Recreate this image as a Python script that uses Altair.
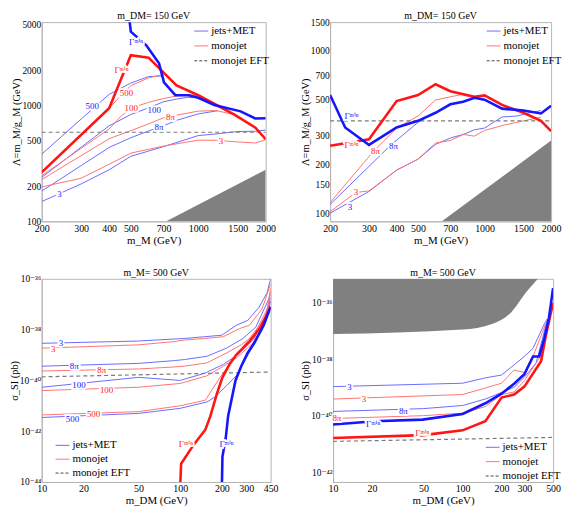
import altair as alt
import pandas as pd

FONT = "Liberation Serif, DejaVu Serif, serif"
BLUE_T = "#6b6bff"
RED_T = "#ff7373"
BLUE = "#1515ff"
RED = "#ff1515"
SHADE = "#808080"
EFT_C = "#7a7a7a"

# ---------------- Panel 1 (top-left): m_DM = 150 GeV, Lambda vs m_M ----------------
p1_jets_min_x = [490, 500, 585, 668, 703, 790, 906, 1000, 1180, 1546, 1796, 2000]
p1_jets_min_y = [6000, 4300, 3300, 2300, 1575, 1220, 1220, 1160, 1006, 886, 769, 774]
p1_mono_min_x = [200, 400, 500, 600, 800, 1000, 1200, 1450, 1800, 2000]
p1_mono_min_y = [264, 944, 2700, 2570, 1480, 1220, 1010, 830, 640, 510]
p1_jets500_x = [200, 300, 400, 500, 600, 700]
p1_jets500_y = [379, 760, 1240, 1553, 1766, 1790]
p1_mono500_x = [200, 300, 400, 450, 500, 600, 700]
p1_mono500_y = [262, 556, 944, 1200, 1476, 1720, 1845]
p1_jets100_x = [200, 300, 400, 500, 600, 700, 800, 900, 1000]
p1_jets100_y = [239, 435, 665, 832, 950, 1072, 1130, 1170, 1159]
p1_mono100_x = [200, 300, 400, 450, 500, 600, 700, 800, 900, 1000]
p1_mono100_y = [247, 425, 624, 800, 944, 1060, 1143, 1200, 1230, 1220]
p1_jets8pi_x = [200, 300, 400, 500, 600, 700, 800, 1000, 1224]
p1_jets8pi_y = [182, 302, 433, 525, 600, 665, 741, 842, 898]
p1_mono8pi_x = [200, 300, 400, 500, 600, 700, 800, 1000, 1200, 1400]
p1_mono8pi_y = [229, 368, 515, 604, 690, 781, 822, 890, 900, 842]
p1_jets3_x = [200, 300, 400, 500, 700, 1000, 1200, 1500, 1800, 2000]
p1_jets3_y = [148, 210, 278, 363, 440, 548, 566, 594, 597, 612]
p1_mono3_x = [200, 300, 400, 500, 700, 1000, 1200, 1500, 1800, 2000]
p1_mono3_y = [198, 235, 310, 387, 445, 500, 499, 483, 473, 505]
p1_eft_x = [200, 2000]
p1_eft_y = [585, 585]
p1_shade_x = [720, 2000]
p1_shade_y = [100, 278]
p1_lab_x = [528, 454, 336, 478, 502, 636, 752, 668, 1264, 240]
p1_lab_y = [3490, 2003, 990, 1274, 950, 903, 790, 644, 489, 171]
p1_lab_t = ["Γᵐⁱⁿ", "Γᵐⁱⁿ", "500", "500", "100", "100", "8π", "8π", "3", "3"]
p1_lab_c = ["b", "r", "b", "r", "r", "b", "r", "b", "r", "b"]

# ---------------- Panel 2 (top-right) ----------------
p2_jets_min_x = [200, 234, 300, 400, 500, 600, 700, 800, 900, 1000, 1200, 1500, 1800, 2000]
p2_jets_min_y = [534, 337, 263, 337, 370, 415, 468, 485, 513, 500, 440, 428, 411, 458]
p2_mono_min_x = [200, 300, 400, 500, 600, 700, 900, 1000, 1200, 1500, 1800, 2000]
p2_mono_min_y = [260, 285, 490, 533, 622, 563, 520, 531, 464, 415, 370, 320]
p2_mono8pi_x = [200, 315, 400, 500, 600, 700, 800]
p2_mono8pi_y = [116, 241, 334, 396, 497, 520, 540]
p2_jets8pi_x = [200, 378, 500, 600]
p2_jets8pi_y = [113, 264, 362, 418]
p2_mono3_x = [200, 262, 300, 400, 500, 600, 700, 800, 900, 1000, 1200, 1500, 1800]
p2_mono3_y = [102, 134, 137, 184, 215, 270, 280, 305, 298, 323, 346, 370, 390]
p2_jets3_x = [200, 300, 400, 500, 600, 700, 800, 900, 1000, 1200, 1400, 1600, 1800]
p2_jets3_y = [100, 136, 184, 215, 265, 290, 305, 326, 334, 391, 396, 415, 428]
p2_eft_x = [200, 2000]
p2_eft_y = [370, 370]
p2_shade_x = [641, 2000]
p2_shade_y = [89, 280]
p2_lab_x = [250, 250, 321, 387, 262, 246]
p2_lab_y = [396, 264, 241, 258, 134, 109]
p2_lab_t = ["Γᵐⁱⁿ", "Γᵐⁱⁿ", "8π", "8π", "3", "3"]
p2_lab_c = ["b", "r", "r", "b", "r", "b"]

# ---------------- Panel 3 (bottom-left): m_M = 500 GeV, log10 sigma_SI [pb] ----------------
p3_jets_min_x = [200, 202, 213, 222, 251, 276, 307, 342, 401, 450]
p3_jets_min_e = [-44.2, -43.0, -42.3, -41.4, -40.0, -39.44, -38.92, -38.54, -37.83, -37.1]
p3_mono_min_x = [100, 101.6, 126, 152, 165, 184, 202, 228, 254, 316, 381, 450]
p3_mono_min_e = [-44.2, -43.28, -42.51, -41.94, -41.42, -40.53, -39.88, -39.35, -38.99, -38.47, -37.9, -37.1]
p3_jets3_x = [10, 50, 91, 107, 150, 200, 254, 307, 370, 424, 450]
p3_jets3_e = [-38.54, -38.45, -38.37, -38.35, -38.28, -38.22, -37.83, -37.64, -37.13, -36.55, -36.0]
p3_mono3_x = [10, 50, 91, 107, 150, 205, 268, 316, 390, 436, 450]
p3_mono3_e = [-38.73, -38.6, -38.47, -38.41, -38.35, -38.28, -37.96, -37.83, -37.19, -36.42, -36.2]
p3_jets8pi_x = [10, 50, 91, 107, 156, 216, 284, 352, 424, 450]
p3_jets8pi_e = [-39.44, -39.33, -39.22, -39.18, -39.05, -38.73, -38.35, -37.9, -36.94, -36.62]
p3_mono8pi_x = [10, 50, 91, 107, 156, 216, 276, 342, 424, 450]
p3_mono8pi_e = [-39.63, -39.55, -39.47, -39.44, -39.31, -38.92, -38.6, -38.22, -37.19, -36.87]
p3_jets100_x = [10, 50, 100, 150, 205, 260, 342, 415, 450]
p3_jets100_e = [-40.27, -39.88, -40.0, -39.72, -39.37, -38.99, -38.35, -37.45, -36.74]
p3_mono100_x = [10, 50, 100, 156, 205, 254, 333, 415, 450]
p3_mono100_e = [-40.4, -40.27, -40.12, -39.82, -39.44, -39.12, -38.54, -37.64, -36.49]
p3_mono500_x = [10, 50, 100, 152, 194, 241, 316, 415, 450]
p3_mono500_e = [-41.36, -41.23, -41.0, -40.78, -39.88, -39.18, -38.35, -37.51, -36.36]
p3_jets500_x = [10, 50, 100, 156, 179, 216, 254, 316, 415, 450]
p3_jets500_e = [-41.46, -41.3, -41.1, -40.85, -40.65, -40.21, -39.82, -38.9, -37.6, -36.9]
p3_eft_x = [10, 450]
p3_eft_e = [-39.86, -39.67]
p3_lab_x = [13.8, 12.1, 17.2, 27.1, 18.6, 29.4, 23.7, 16.7, 110, 216]
p3_lab_e = [-38.54, -38.76, -39.44, -39.6, -40.18, -40.36, -41.33, -41.53, -42.51, -42.51]
p3_lab_t = ["3", "3", "8π", "8π", "100", "100", "500", "500", "Γᵐⁱⁿ", "Γᵐⁱⁿ"]
p3_lab_c = ["b", "r", "b", "r", "b", "r", "r", "b", "r", "b"]

# ---------------- Panel 4 (bottom-right) ----------------
p4_jets_min_x = [10, 21, 49, 100, 150, 200, 250, 300, 350, 390, 428, 465, 500]
p4_jets_min_e = [-40.31, -40.2, -40.14, -39.94, -39.56, -39.22, -38.87, -38.53, -37.9, -37.9, -37.26, -36.52, -35.48]
p4_mono_min_x = [10, 50, 100, 150, 200, 250, 300, 404, 438, 500]
p4_mono_min_e = [-40.79, -40.69, -40.52, -40.2, -39.36, -39.25, -38.97, -38.07, -37.2, -36.0]
p4_jets3_x = [10, 100, 150, 200, 300, 350, 428, 450]
p4_jets3_e = [-38.97, -38.85, -38.66, -38.56, -37.9, -37.61, -36.75, -36.57]
p4_mono3_x = [10, 100, 150, 200, 250, 300, 350, 438]
p4_mono3_e = [-39.41, -39.25, -39.02, -38.85, -38.38, -38.47, -37.9, -36.75]
p4_jets8pi_x = [10, 50, 100, 150, 200, 250, 300, 370, 450]
p4_jets8pi_e = [-39.85, -39.75, -39.64, -39.41, -39.18, -38.99, -38.64, -38.13, -36.63]
p4_mono8pi_x = [10, 50, 100, 150, 200, 250, 300, 400, 450]
p4_mono8pi_e = [-40.1, -40.0, -39.91, -39.68, -39.25, -39.16, -38.76, -37.9, -36.7]
p4_eft_x = [10, 500]
p4_eft_e = [-40.91, -40.77]
p4_shade_x = [10, 100, 169, 237, 313, 382]
p4_shade_e = [-37.11, -36.95, -36.75, -36.34, -35.6, -35.15]
p4_lab_x = [13.4, 17.3, 34.9, 10.7, 20.4, 48.9]
p4_lab_e = [-38.99, -39.41, -39.85, -40.1, -40.31, -40.62]
p4_lab_t = ["3", "3", "8π", "8π", "Γᵐⁱⁿ", "Γᵐⁱⁿ"]
p4_lab_c = ["b", "r", "b", "r", "b", "r"]

LEG_T = ["jets+MET", "monojet", "monojet EFT"]

SUP = ("datum.value < 3e-44 ? '10⁻⁴⁴' : datum.value < 3e-42 ? '10⁻⁴²' : "
       "datum.value < 3e-40 ? '10⁻⁴⁰' : datum.value < 3e-38 ? '10⁻³⁸' : '10⁻³⁶'")


def pw(e):
    return [10 ** v for v in e]


def make_panel(xdom, ydom, xvals, yvals, xtitle, ytitle, title, lines, labels,
               legend, w, h, shade=None, ylabel_expr=None):
    xs = alt.Scale(type="log", domain=xdom, nice=False)
    ys = alt.Scale(type="log", domain=ydom, nice=False)
    xa = alt.Axis(values=xvals, title=xtitle, format="d", labelFlush=False,
                  labelOverlap=False, ticks=False, labelPadding=2, titlePadding=1)
    yargs = dict(values=yvals, title=ytitle, labelOverlap=False, labelFlush=False,
                 ticks=False, labelPadding=1, titlePadding=0, labelFontSize=9.5,
                 titleFontSize=10.5)
    if ylabel_expr:
        yargs["labelExpr"] = ylabel_expr
    else:
        yargs["format"] = "d"
    ya = alt.Axis(**yargs)
    X = alt.X("x:Q", scale=xs, axis=xa)
    Y = alt.Y("y:Q", scale=ys, axis=ya)
    layers = []
    if shade is not None:
        sx, sy, top = shade
        df = pd.DataFrame({"x": sx, "y": sy, "y2": [top] * len(sx)})
        layers.append(alt.Chart(df).mark_area(color=SHADE, clip=True,
                                              interpolate="monotone").encode(
            x=X, y=Y, y2="y2:Q"))
    for (lx, ly, col, sw, dash) in lines:
        df = pd.DataFrame({"x": lx, "y": ly})
        kw = dict(color=col, strokeWidth=sw, clip=True)
        if dash:
            kw["strokeDash"] = dash
        layers.append(alt.Chart(df).mark_line(**kw).encode(x=X, y=Y))
    lx, ly, lt, lc = labels
    ldf = pd.DataFrame({"x": lx, "y": ly, "t": lt, "c": lc})
    layers.append(alt.Chart(ldf).mark_text(font=FONT, fontSize=9, color="white",
                                           stroke="white", strokeWidth=3.5).encode(
        x=X, y=Y, text="t:N"))
    for code, col in (("b", BLUE), ("r", RED)):
        layers.append(alt.Chart(ldf[ldf.c == code]).mark_text(
            font=FONT, fontSize=9, color=col).encode(x=X, y=Y, text="t:N"))
    one = pd.DataFrame({"k": [0]})
    # panel title, drawn just above the frame
    layers.append(alt.Chart(one).mark_text(
        text=title, font=FONT, fontSize=10, align="center", baseline="middle",
        color="black").encode(x=alt.value(w / 2), y=alt.value(-6)))
    # legend drawn by hand
    gx, gy, dy = legend
    styles = [(BLUE_T, None), (RED_T, None), ("#444444", [3, 2])]
    for i, (txt, (col, dash)) in enumerate(zip(LEG_T, styles)):
        kw = dict(color=col, strokeWidth=1)
        if dash:
            kw["strokeDash"] = dash
        layers.append(alt.Chart(one).mark_rule(**kw).encode(
            x=alt.value(gx), x2=alt.value(gx + 14), y=alt.value(gy + i * dy)))
        layers.append(alt.Chart(one).mark_text(
            text=txt, font=FONT, fontSize=11, align="left", baseline="middle",
            color="black").encode(x=alt.value(gx + 17), y=alt.value(gy + i * dy)))
    return alt.layer(*layers).properties(width=w, height=h)


thin = 1.0
thick = 2.6
dash = [4, 3]

p1 = make_panel(
    [200, 2000], [100, 5200], [200, 300, 400, 500, 700, 1000, 1500, 2000],
    [100, 200, 500, 1000, 2000, 5000], "m_M (GeV)", "Λ=m_M/g_M (GeV)", "m_DM= 150 GeV",
    [
        (p1_jets500_x, p1_jets500_y, BLUE_T, thin, None),
        (p1_mono500_x, p1_mono500_y, RED_T, thin, None),
        (p1_jets100_x, p1_jets100_y, BLUE_T, thin, None),
        (p1_mono100_x, p1_mono100_y, RED_T, thin, None),
        (p1_jets8pi_x, p1_jets8pi_y, BLUE_T, thin, None),
        (p1_mono8pi_x, p1_mono8pi_y, RED_T, thin, None),
        (p1_jets3_x, p1_jets3_y, BLUE_T, thin, None),
        (p1_mono3_x, p1_mono3_y, RED_T, thin, None),
        (p1_eft_x, p1_eft_y, EFT_C, 1.2, dash),
        (p1_mono_min_x, p1_mono_min_y, RED, thick, None),
        (p1_jets_min_x, p1_jets_min_y, BLUE, thick, None),
    ],
    (p1_lab_x, p1_lab_y, p1_lab_t, p1_lab_c),
    (154, 9, 15), 226, 201, shade=(p1_shade_x, p1_shade_y, 100))

p2 = make_panel(
    [200, 2000], [89, 1500], [200, 300, 400, 500, 700, 1000, 1500, 2000],
    [100, 150, 200, 300, 500, 700, 1000, 1500], "m_M (GeV)", "Λ=m_M/g_M (GeV)",
    "m_DM= 150 GeV",
    [
        (p2_jets8pi_x, p2_jets8pi_y, BLUE_T, thin, None),
        (p2_mono8pi_x, p2_mono8pi_y, RED_T, thin, None),
        (p2_jets3_x, p2_jets3_y, BLUE_T, thin, None),
        (p2_mono3_x, p2_mono3_y, RED_T, thin, None),
        (p2_eft_x, p2_eft_y, EFT_C, 1.2, dash),
        (p2_mono_min_x, p2_mono_min_y, RED, thick, None),
        (p2_jets_min_x, p2_jets_min_y, BLUE, thick, None),
    ],
    (p2_lab_x, p2_lab_y, p2_lab_t, p2_lab_c),
    (158, 9, 15), 223, 201, shade=(p2_shade_x, p2_shade_y, 89))

p3 = make_panel(
    [10, 450], [1e-44, 1e-36], [10, 20, 50, 100, 200, 300, 450],
    [1e-44, 1e-42, 1e-40, 1e-38, 1e-36], "m_DM (GeV)", "σ_SI (pb)", "m_M= 500 GeV",
    [
        (p3_jets3_x, pw(p3_jets3_e), BLUE_T, thin, None),
        (p3_mono3_x, pw(p3_mono3_e), RED_T, thin, None),
        (p3_jets8pi_x, pw(p3_jets8pi_e), BLUE_T, thin, None),
        (p3_mono8pi_x, pw(p3_mono8pi_e), RED_T, thin, None),
        (p3_jets100_x, pw(p3_jets100_e), BLUE_T, thin, None),
        (p3_mono100_x, pw(p3_mono100_e), RED_T, thin, None),
        (p3_jets500_x, pw(p3_jets500_e), BLUE_T, thin, None),
        (p3_mono500_x, pw(p3_mono500_e), RED_T, thin, None),
        (p3_eft_x, pw(p3_eft_e), EFT_C, 1.2, dash),
        (p3_mono_min_x, pw(p3_mono_min_e), RED, thick, None),
        (p3_jets_min_x, pw(p3_jets_min_e), BLUE, thick, None),
    ],
    (p3_lab_x, pw(p3_lab_e), p3_lab_t, p3_lab_c),
    (14, 168, 14), 231, 205, ylabel_expr=SUP)

p4 = make_panel(
    [10, 500], [10 ** -42.35, 10 ** -35.15], [10, 20, 50, 100, 200, 300, 500],
    [1e-42, 1e-40, 1e-38, 1e-36], "m_DM (GeV)", "σ_SI (pb)", "m_M= 500 GeV",
    [
        (p4_jets3_x, pw(p4_jets3_e), BLUE_T, thin, None),
        (p4_mono3_x, pw(p4_mono3_e), RED_T, thin, None),
        (p4_jets8pi_x, pw(p4_jets8pi_e), BLUE_T, thin, None),
        (p4_mono8pi_x, pw(p4_mono8pi_e), RED_T, thin, None),
        (p4_eft_x, pw(p4_eft_e), EFT_C, 1.2, dash),
        (p4_mono_min_x, pw(p4_mono_min_e), RED, thick, None),
        (p4_jets_min_x, pw(p4_jets_min_e), BLUE, thick, None),
    ],
    (p4_lab_x, pw(p4_lab_e), p4_lab_t, p4_lab_c),
    (154, 170, 14.5), 222, 205,
    shade=(p4_shade_x, pw(p4_shade_e), 10 ** -35.15), ylabel_expr=SUP)

top = alt.hconcat(p1, p2, spacing=23)
bottom = alt.hconcat(p3, p4, spacing=21)
chart = alt.vconcat(top, bottom, spacing=21).properties(padding=0).configure_view(
    stroke="#b5b5b5", strokeWidth=1).configure_axis(
    labelFont=FONT, titleFont=FONT, labelFontSize=10, titleFontSize=11,
    titleFontWeight="normal", labelColor="black", titleColor="black",
    domainColor="#b5b5b5", tickColor="#999999", grid=False)

chart.save("out.html", embed_options={"renderer": "svg", "actions": False})
